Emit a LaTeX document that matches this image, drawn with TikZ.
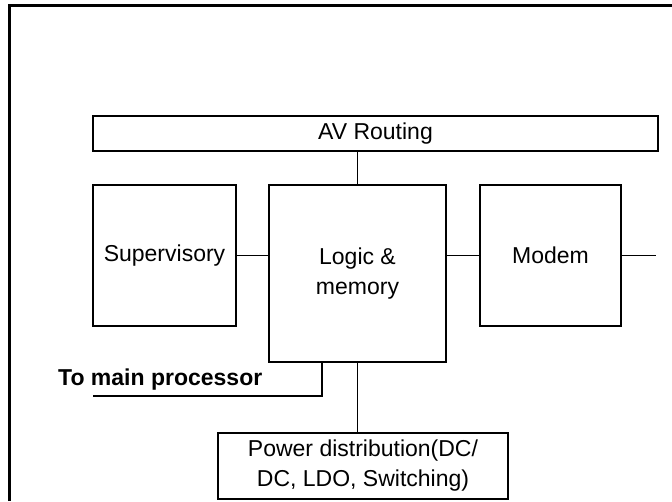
\documentclass[tikz,border=0pt]{standalone}
\usepackage{fontspec}
\setmainfont{Liberation Sans}
\usepackage{tikz}

\tikzset{
    blk/.style={draw, line width=1.2pt, inner sep=0pt, outer sep=0pt, align=center,
        font=\fontsize{23}{30}\selectfont},
    wire/.style={line width=1.2pt},
}

\begin{document}
\begin{tikzpicture}[x=1pt, y=-1pt]
    \useasboundingbox (0,0) rectangle (672,501);
    \draw[line width=3pt] (9.5,501) -- (9.5,5.5) -- (672,5.5);

    \node[blk, minimum width=565, minimum height=35] (av) at (375.5,133.5) {AV Routing};
    \node[blk, minimum width=143, minimum height=141] (sup) at (164.5,255.5) {Supervisory};
    \node[blk, minimum width=177, minimum height=177] (logic) at (357.5,273.5) {Logic \&\\memory};
    \node[blk, minimum width=141, minimum height=141] (modem) at (550.5,255.5) {Modem};
    \node[blk, minimum width=290, minimum height=66] (power) at (363,466) {Power distribution(DC/\\DC, LDO, Switching)};

    \node[anchor=base west, inner sep=0pt, font=\bfseries\fontsize{23}{30}\selectfont] (proc) at (58,385) {To main processor};
    \coordinate (mout) at (656,255.5);
    \coordinate (pend) at (93,396);

    \draw[wire] (logic.north) -- (logic.north |- av.south);
    \draw[wire] (sup.east) -- (sup.east -| logic.west);
    \draw[wire] (modem.west -| logic.east) -- (modem.west);
    \draw[wire] (modem.east) -- (mout);
    \draw[wire] ([xshift=-35.5pt]logic.south) |- (pend);
    \draw[wire] (logic.south) -- (logic.south |- power.north);
\end{tikzpicture}
\end{document}
